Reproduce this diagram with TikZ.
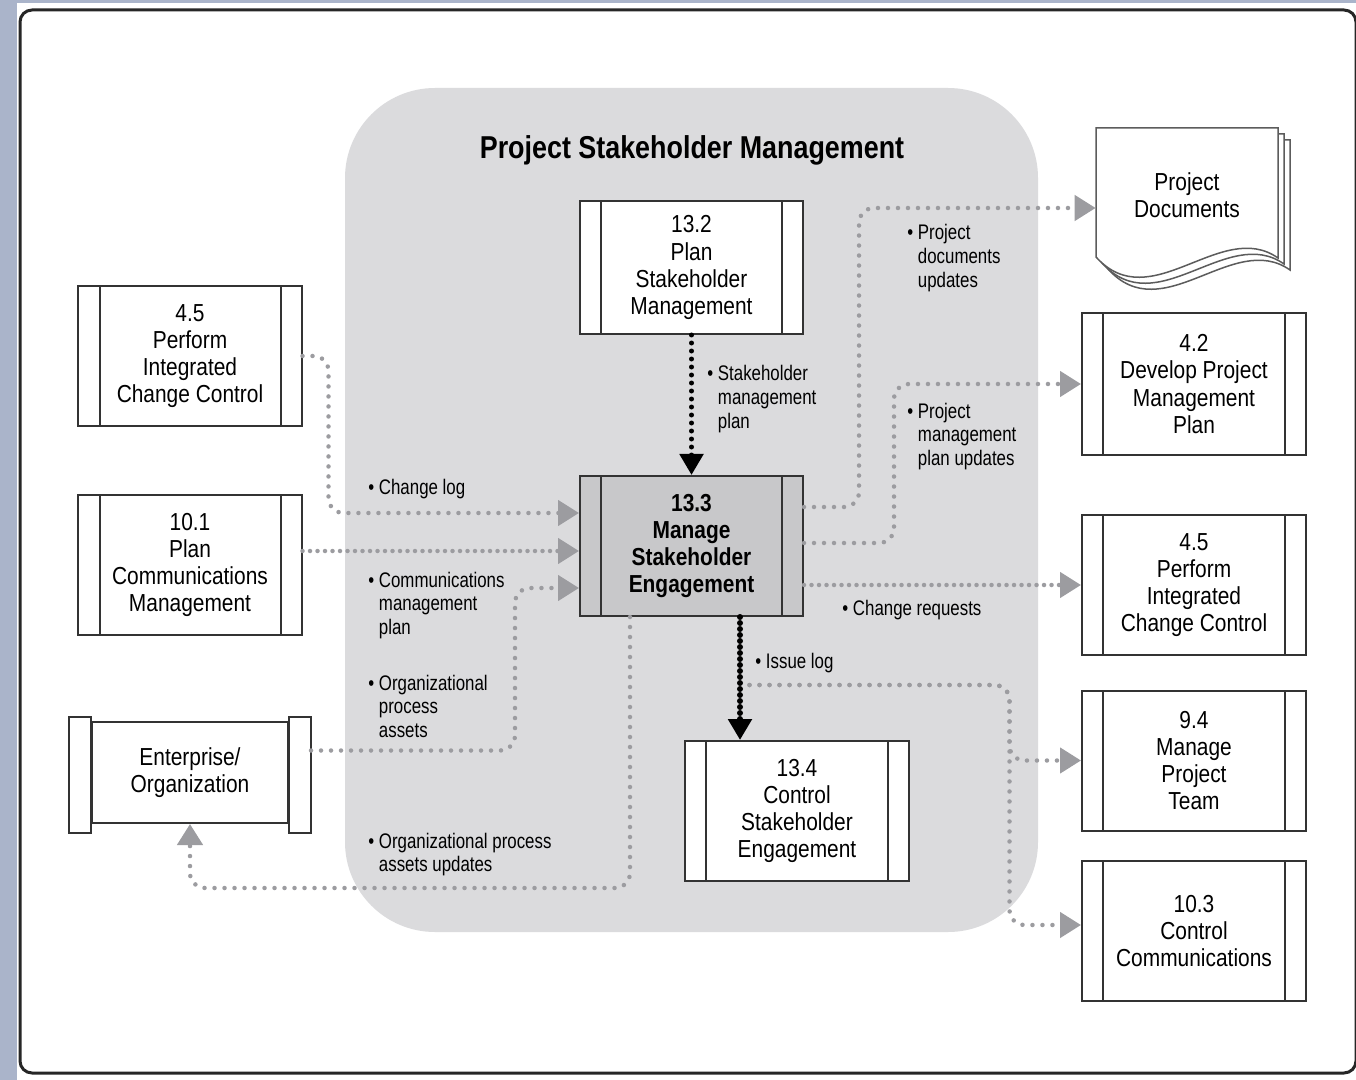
\documentclass[tikz,border=0pt]{standalone}
\usepackage{fontspec}
\setmainfont{Liberation Sans}[FakeStretch=0.85]
\newfontfamily\lblfont{Liberation Sans}[FakeStretch=0.8]
\usetikzlibrary{arrows.meta,calc}
\definecolor{stripblue}{HTML}{AAB4CA}
\definecolor{areagray}{HTML}{DBDBDD}
\definecolor{keygray}{HTML}{C8C8CA}
\definecolor{flowgray}{HTML}{9C9CA0}
\definecolor{boxline}{HTML}{333333}
\newcommand{\boxfont}{\fontsize{14}{15.4}\selectfont}
\newcommand{\bul}[1]{\begin{tabular}[t]{@{}l@{ }l@{}}\textbullet & #1\end{tabular}}
\begin{document}
\begin{tikzpicture}[x=0.2mm,y=-0.2mm]

      \tikzset{proc/.style={draw=boxline, line width=0.4mm, fill=white, minimum width=44.6mm, minimum height=28mm,
                 align=center, font=\boxfont, inner sep=0pt,
                 path picture={\draw[boxline, line width=0.4mm]
                   ([xshift=4.2mm]path picture bounding box.north west) -- ([xshift=4.2mm]path picture bounding box.south west)
                   ([xshift=-4.2mm]path picture bounding box.north east) -- ([xshift=-4.2mm]path picture bounding box.south east);}},
               entbox/.style={draw=boxline, line width=0.4mm, fill=white, minimum width=39.2mm, minimum height=20.2mm,
                 align=center, font=\boxfont, inner sep=0pt},
               lbl/.style={anchor=base west, inner sep=0pt, font=\lblfont\fontsize{12}{13.6}\selectfont},
               flow/.style={draw=flowgray, line width=0.9mm, line cap=round, dash pattern=on 0pt off 2mm,
                 rounded corners=3mm, -{Triangle[length=4.2mm,width=5mm,fill=flowgray]}},
               denseflow/.style={flow, dash pattern=on 0pt off 1.5mm},
               blackflow/.style={draw=black, line width=1mm, line cap=round, dash pattern=on 0pt off 1.6mm,
                 -{Triangle[length=4.2mm,width=4.6mm]}},
               blackdense/.style={blackflow, line width=1.2mm, dash pattern=on 0pt off 1.2mm}}
      \useasboundingbox (0,0) rectangle (1356,1080);
%% Frame
      \fill[white] (0,0) rectangle (1356,1080);
      \fill[stripblue] (0,0) rectangle (17,1080);
      \fill[stripblue] (0,0) rectangle (1356,3);
      \draw[line width=0.6mm, black!85, rounded corners=2.4mm] (20,10) rectangle (1356,1073);
      \fill[areagray, rounded corners=18mm] (345,88) rectangle (1038,932);
      \node[font=\fontsize{18}{20}\selectfont\bfseries] (ttl) at (692,150) {Project Stakeholder Management};
%% Documents
      \foreach \d in {12,6,0}
        \draw[boxline!80, line width=0.3mm, fill=white] (1096+\d,128+\d) -- ++(182,0) -- ++(0,130)
          .. controls +(-57,-40) and +(55,61) .. ++(-182,-1) -- cycle;
      \node[font=\boxfont, align=center, minimum width=36.4mm, inner sep=0pt] (pdoc) at (1187,195) {Project\\Documents};
%% Processes
      \node[proc, minimum height=26.6mm] (psm) at (691.5,267.5) {13.2\\Plan\\Stakeholder\\Management};
      \node[proc] (pic1) at (190,356) {4.5\\Perform\\Integrated\\Change Control};
      \node[proc] (pcm) at (190,565) {10.1\\Plan\\Communications\\Management};
      \node[proc, fill=keygray, font=\boxfont\bfseries] (mse) at (691.5,546) {13.3\\Manage\\Stakeholder\\Engagement};
      \node[proc, minimum width=44.8mm] (cse) at (797,811) {13.4\\Control\\Stakeholder\\Engagement};
      \node[proc, minimum width=44.8mm, minimum height=28.4mm] (dpm) at (1194,384) {4.2\\Develop Project\\Management\\Plan};
      \node[proc, minimum width=44.8mm] (pic2) at (1194,585) {4.5\\Perform\\Integrated\\Change Control};
      \node[proc, minimum width=44.8mm] (mpt) at (1194,760.5) {9.4\\Manage\\Project\\Team};
      \node[proc, minimum width=44.8mm] (ccm) at (1194,931) {10.3\\Control\\Communications};
      \node[entbox] (ent) at (190,772.5) {Enterprise/\\Organization};
      \draw[boxline, line width=0.4mm, fill=white] ($(ent.north west)+(-22,-4)$) rectangle ($(ent.south west)+(0,9)$);
      \draw[boxline, line width=0.4mm, fill=white] ($(ent.north east)+(0,-4)$) rectangle ($(ent.south east)+(22,9)$);
%Flows
      \coordinate (iss) at ($(mse.south)+(58,68)$);
      \draw[flow] (pic1.east) -- ++(26,0) |- ($(mse.west)+(0,-33)$);
      \draw[denseflow] ($(pcm.east)+(0,-14)$) -- ($(mse.west)+(0,5)$);
      \draw[flow] ($(ent.east)+(22,-22)$) -- ++(204,0) |- ($(mse.west)+(0,42)$);
      \draw[flow] ($(mse.south)+(-61.5,0)$) -- ++(0,271) -| (ent.south);
      \draw[flow] ($(mse.east)+(0,-39)$) -- ++(55,0) |- ($(pdoc.west)+(0,13)$);
      \draw[flow] ($(mse.east)+(0,-3)$) -- ++(90,0) |- (dpm.west);
      \draw[denseflow] ($(mse.east)+(0,39)$) -- (pic2.west);
      \draw[flow] (iss) -- ++(260,0) |- (mpt.west);
      \draw[flow] (iss) -- ++(260,0) |- ($(ccm.west)+(0,-6)$);
      \draw[blackflow] (psm.south) -- (mse.north);
      \draw[blackdense] ($(mse.south)+(48.5,0)$) -- ($(cse.north)+(-57,0)$);
%Labels
      \node[lbl] (lcl) at (368,494) {\bul{Change log}};
      \node[lbl] (lcmp) at (368,587) {\bul{Communications\\ & management\\ & plan}};
      \node[lbl] (lopa) at (368,690) {\bul{Organizational\\ & process\\ & assets}};
      \node[lbl] (lopau) at (368,848) {\bul{Organizational process\\ & assets updates}};
      \node[lbl] (lsmp) at (707,381) {\bul{Stakeholder\\ & management\\ & plan}};
      \node[lbl] (lpdu) at (907,240) {\bul{Project\\ & documents\\ & updates}};
      \node[lbl] (lpmpu) at (907,418) {\bul{Project\\ & management\\ & plan updates}};
      \node[lbl] (lcr) at (842,615) {\bul{Change requests}};
      \node[lbl] (lil) at (755,668) {\bul{Issue log}};

\end{tikzpicture}
\end{document}
